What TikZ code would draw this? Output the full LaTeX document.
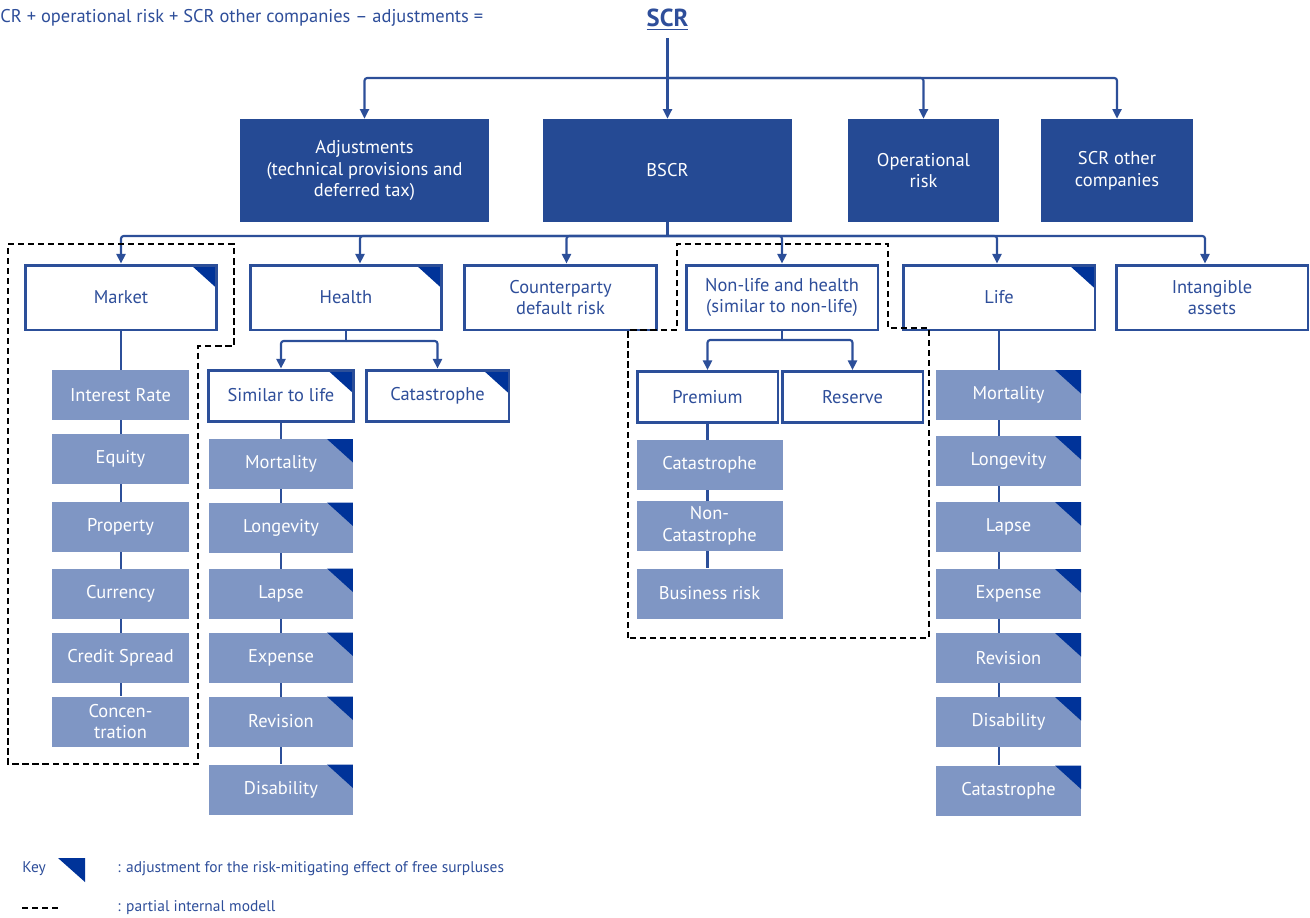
\documentclass[tikz,border=0pt]{standalone}
\usepackage{fontspec}
\setmainfont{PT Sans}
\usepackage{tikz}
\usetikzlibrary{arrows.meta,positioning,backgrounds}

\definecolor{scrdark}{HTML}{254A94}
\definecolor{scrline}{HTML}{2C4F99}
\definecolor{scrlight}{HTML}{7F96C4}
\definecolor{scrmark}{HTML}{003399}
\definecolor{scrtext}{HTML}{2E4E9A}

\newcommand{\boxfont}{\fontsize{10.5}{12.3}\selectfont}

\tikzset{
  topbox/.style={fill=scrdark, text=white, align=center, inner sep=0pt, minimum height=2.06cm, font=\boxfont},
  riskbox/.style={draw=scrline, line width=1.7pt, fill=white, text=scrtext, align=center, inner sep=0pt, minimum width=3.84cm, minimum height=1.3cm, font=\boxfont},
  subbox/.style={fill=scrlight, text=white, align=center, inner sep=0pt, minimum height=1cm, font=\boxfont},
  marked/.style={path picture={\fill[scrmark] (path picture bounding box.north east) -- ++(-0.52cm,0) -- ++(0.52cm,-0.47cm) -- cycle;}},
  link/.style={draw=scrline, line width=1.2pt, rounded corners=1.5pt},
  arrow/.style={link, -{Triangle[length=5.5pt,width=5.2pt]}},
  pim/.style={draw=black, line width=1.2pt, dash pattern=on 3.5pt off 2.2pt},
  keytext/.style={text=scrtext, anchor=west, inner sep=0pt, font=\fontsize{8.8}{10}\selectfont}
}

\begin{document}
\begin{tikzpicture}[x=0.02cm,y=-0.02cm]
  \useasboundingbox (0,0) rectangle (1310,917);

  \node[text=scrtext, anchor=west, inner sep=0pt, font=\fontsize{10.5}{12}\selectfont] (formula) at (0,18) {CR + operational risk + SCR other companies – adjustments =};
  \node[text=scrtext, inner sep=4pt, font=\fontsize{14}{16}\selectfont\bfseries] (scr) at (667.5,20) {\underline{SCR}};

  \node[topbox, minimum width=4.98cm] (adj) at (364.5,170.5) {Adjustments\\(technical provisions and\\deferred tax)};
  \node[topbox, minimum width=4.98cm] (bscr) at (667.5,170.5) {BSCR};
  \node[topbox, minimum width=3.02cm] (oprisk) at (923.5,170.5) {Operational\\risk};
  \node[topbox, minimum width=3.04cm] (scrother) at (1117,170.5) {SCR other\\companies};

  \coordinate (topfork) at (667.5,78);
  \draw[link] (scr.south) -- (topfork);
  \draw[arrow] (topfork) -- (bscr.north);
  \foreach \t in {adj,oprisk,scrother}
    \draw[arrow] (topfork) -| (\t.north);

  \node[riskbox, marked] (market) at (121,297.5) {Market};
  \node[riskbox, marked] (health) at (346,297.5) {Health};
  \node[riskbox] (cpty) at (560.5,297.5) {Counterparty\\default risk};
  \node[riskbox] (nonlife) at (782,297.5) {Non-life and health\\(similar to non-life)};
  \node[riskbox, marked] (life) at (999,297.5) {Life};
  \node[riskbox] (intang) at (1212,297.5) {Intangible\\assets};

  \coordinate (midfork) at (667.5,236);
  \draw[link] (bscr.south) -- (midfork);
  \foreach \t/\d in {market/0,health/14,cpty/6,nonlife/0,life/-2,intang/-7}
    \draw[arrow] (midfork) -| ([xshift=\d*0.02cm]\t.north);

  \foreach \n/\y/\s in {mir/395/Interest Rate, meq/459/Equity, mprop/527/Property, mcur/593.5/Currency, mcs/657.5/Credit Spread, mconc/721.5/{Concen-\\tration}}
    \node[subbox, minimum width=2.74cm] (\n) at (120.5,\y) {\s};

  \node[riskbox, marked, minimum width=2.9cm, minimum height=1.02cm] (hsim) at (281,395.5) {Similar to life};
  \node[riskbox, marked, minimum width=2.86cm, minimum height=1.02cm] (hcat) at (437.5,395.5) {Catastrophe};
  \coordinate (hfork) at (346,341);
  \draw[link] (health.south) -- (hfork);
  \draw[arrow] (hfork) -| (hsim.north);
  \draw[arrow] (hfork) -| (hcat.north);

  \foreach \n/\y/\s in {hmort/464/Mortality, hlong/527.5/Longevity, hlapse/593.5/Lapse, hexp/657.5/Expense, hrev/721.5/Revision, hdis/789.5/Disability}
    \node[subbox, marked, minimum width=2.88cm] (\n) at (281,\y) {\s};

  \node[riskbox, minimum width=2.82cm, minimum height=1.02cm] (prem) at (707.5,397) {Premium};
  \node[riskbox, minimum width=2.82cm, minimum height=1.02cm] (res) at (852.5,397) {Reserve};
  \coordinate (nfork) at (782,340);
  \draw[link] (nonlife.south) -- (nfork);
  \draw[arrow] (nfork) -| (prem.north);
  \draw[arrow] (nfork) -| (res.north);

  \foreach \n/\y/\s in {ncat/464.5/Catastrophe, nnon/526/{Non-\\Catastrophe}, nbus/593.5/Business risk}
    \node[subbox, minimum width=2.92cm] (\n) at (709.5,\y) {\s};

  \foreach \n/\y/\s in {lmort/395/Mortality, llong/461/Longevity, llapse/527/Lapse, lexp/594/Expense, lrev/658/Revision, ldis/722/Disability, lcat/790.5/Catastrophe}
    \node[subbox, marked, minimum width=2.9cm] (\n) at (1008.5,\y) {\s};

  \begin{pgfonlayer}{background}
    \draw[link] (market.south) -- (market.south |- mconc.north);
    \draw[link] (hsim.south) -- (hsim.south |- hdis.north);
    \draw[link] (prem.south) -- (prem.south |- nbus.north);
    \draw[link] (life.south) -- (life.south |- lcat.north);
  \end{pgfonlayer}

  \draw[pim] (8,244) -- (234,244) -- (234,346) -- (198,346) -- (198,764) -- (8,764) -- cycle;
  \draw[pim] (628,638) -- (628,330) -- (677,330) -- (677,244) -- (888,244) -- (888,328) -- (929,328) -- (929,638) -- cycle;

  \node[keytext] (keylabel) at (22,869) {Key};
  \fill[scrmark] (58,858) -- (85,858) -- (85,882) -- cycle;
  \node[keytext] (keymark) at (117,869) {: adjustment for the risk-mitigating effect of free surpluses};
  \draw[pim] (22,908) -- (62,908);
  \node[keytext] (keypim) at (117,908) {: partial internal modell};
\end{tikzpicture}
\end{document}
